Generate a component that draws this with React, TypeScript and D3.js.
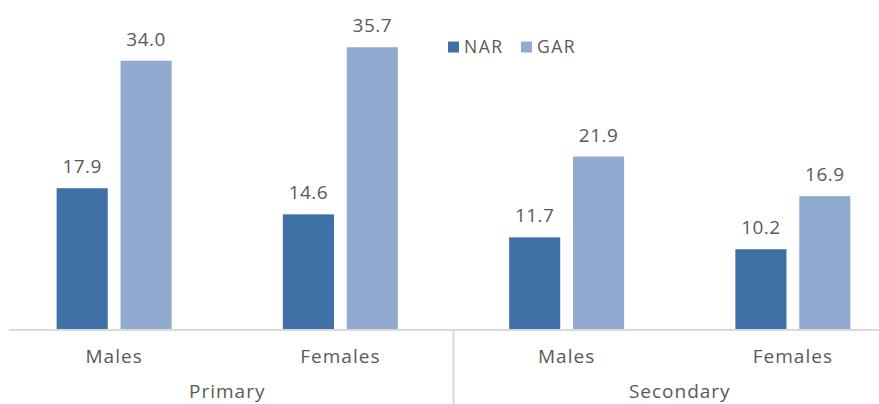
import React from "react";
import * as d3 from "d3";

const categories = ["Males", "Females", "Males ", "Females "];
const categoryLabels = ["Males", "Females", "Males", "Females"];
const groups = ["Primary", "Secondary"];
const seriesNames = ["NAR", "GAR"];
const narValues = [17.9, 14.6, 11.7, 10.2];
const garValues = [34.0, 35.7, 21.9, 16.9];

const W = 879;
const H = 404;
const colors = ["#3f71a7", "#91aad0"];
const textColor = "#595959";
const font = "'Open Sans', 'Noto Sans', sans-serif";

export default function App() {
  const x = d3.scaleBand<string>().domain(categories).range([1, 906]).padding(0);
  const groupWidth = 115;
  const inner = d3
    .scaleBand<string>()
    .domain(seriesNames)
    .range([0, groupWidth])
    .paddingInner(0.2)
    .paddingOuter(0);
  const baseY = 330;
  const y = d3.scaleLinear().domain([0, 34]).range([baseY, 60.7]);
  const series = [narValues, garValues];
  const groupX = d3.scaleBand<string>().domain(groups).range([1, 906]);

  return (
    <svg
      width={W}
      height={H}
      style={{ position: "absolute", left: 0, top: 0, background: "#fff" }}
      fontFamily={font}
    >
      {categories.map((c, i) => {
        const x0 = (x(c) as number) + (x.bandwidth() - groupWidth) / 2;
        return (
          <g key={c}>
            {seriesNames.map((s, j) => {
              const v = series[j][i];
              const bx = x0 + (inner(s) as number);
              return (
                <g key={s}>
                  <rect
                    x={bx}
                    y={y(v)}
                    width={inner.bandwidth()}
                    height={baseY - y(v)}
                    fill={colors[j]}
                  />
                  <text
                    x={bx + inner.bandwidth() / 2}
                    y={y(v) - 15}
                    textAnchor="middle"
                    fontSize={19}
                    fill={textColor}
                    letterSpacing={0.5}
                  >
                    {v.toFixed(1)}
                  </text>
                </g>
              );
            })}
            <text
              x={(x(c) as number) + x.bandwidth() / 2}
              y={363}
              textAnchor="middle"
              fontSize={19}
              fill={textColor}
              letterSpacing={1}
            >
              {categoryLabels[i]}
            </text>
          </g>
        );
      })}
      <line x1={9} x2={879} y1={baseY} y2={baseY} stroke="#d9d9d9" strokeWidth={2} />
      <line x1={453.5} x2={453.5} y1={baseY} y2={H} stroke="#d9d9d9" strokeWidth={2} />
      {groups.map((g) => (
        <text
          key={g}
          x={(groupX(g) as number) + groupX.bandwidth() / 2}
          y={398}
          textAnchor="middle"
          fontSize={19}
          fill={textColor}
          letterSpacing={1}
        >
          {g}
        </text>
      ))}
      {seriesNames.map((s, j) => {
        const lx = [448, 521][j];
        return (
          <g key={s}>
            <rect x={lx} y={41.5} width={11} height={11} fill={colors[j]} />
            <text x={lx + 16} y={53.3} fontSize={17.5} fill={textColor} letterSpacing={1.5}>
              {s}
            </text>
          </g>
        );
      })}
    </svg>
  );
}
